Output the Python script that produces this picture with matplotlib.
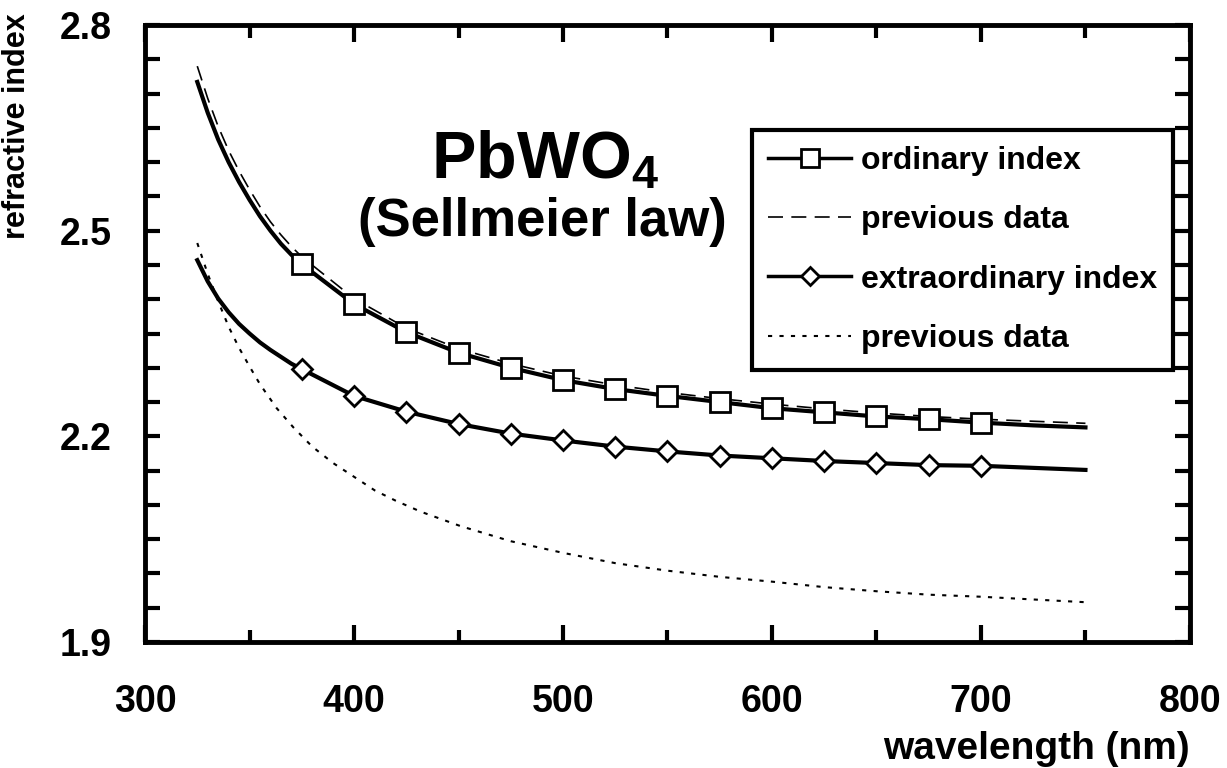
import numpy as np
import matplotlib
matplotlib.use('Agg')
import matplotlib.pyplot as plt
from matplotlib.ticker import MultipleLocator, FixedLocator

plt.rcParams['font.family'] = ['Liberation Sans', 'DejaVu Sans']
plt.rcParams['font.weight'] = 'bold'
plt.rcParams['mathtext.default'] = 'regular'

# indice ordinario (Sellmeier)
wl_o = [325, 330, 335, 340, 345, 350, 355, 360, 365, 370, 375, 400, 425, 450, 475, 500,
        525, 550, 575, 600, 625, 650, 675, 700, 725, 750]
n_o = [2.717, 2.672, 2.633, 2.600, 2.571, 2.545, 2.521, 2.500, 2.481, 2.465, 2.451, 2.393,
       2.352, 2.322, 2.300, 2.282, 2.269, 2.259, 2.250, 2.241, 2.235, 2.229, 2.225, 2.220,
       2.216, 2.213]

# datos previos (ordinario)
wl_o_prev = [325, 330, 335, 340, 345, 350, 355, 360, 365, 370, 375, 400, 425, 450, 475, 500,
             525, 550, 575, 600, 625, 650, 675, 700, 725, 750]
n_o_prev = [2.740, 2.693, 2.652, 2.617, 2.587, 2.560, 2.535, 2.513, 2.494, 2.477, 2.462, 2.401,
            2.358, 2.328, 2.306, 2.288, 2.275, 2.264, 2.255, 2.247, 2.240, 2.234, 2.229, 2.225,
            2.222, 2.219]

# indice extraordinario
wl_e = [325, 330, 335, 340, 345, 350, 355, 360, 365, 370, 375, 400, 425, 450, 475, 500,
        525, 550, 575, 600, 625, 650, 675, 700, 725, 750]
n_e = [2.457, 2.426, 2.401, 2.381, 2.364, 2.350, 2.337, 2.326, 2.316, 2.306, 2.298, 2.259,
       2.236, 2.218, 2.204, 2.194, 2.185, 2.178, 2.172, 2.168, 2.164, 2.161, 2.158, 2.157,
       2.154, 2.151]

# datos previos (extraordinario)
wl_e_prev = [325, 330, 335, 340, 345, 350, 355, 363, 371, 380, 390, 400, 410, 420, 432, 451,
             475, 500, 525, 550, 575, 600, 625, 650, 675, 700, 750]
n_e_prev = [2.482, 2.437, 2.397, 2.360, 2.329, 2.302, 2.276, 2.241, 2.213, 2.185, 2.161, 2.141,
            2.121, 2.106, 2.090, 2.069, 2.047, 2.030, 2.015, 2.004, 1.995, 1.988, 1.980, 1.974,
            1.969, 1.966, 1.958]

# marcadores cada 25 nm entre 375 y 700
mk_o = [i for i, w in enumerate(wl_o) if 375 <= w <= 700]
mk_e = [i for i, w in enumerate(wl_e) if 375 <= w <= 700]

fig = plt.figure(figsize=(12.27, 7.68), dpi=100)
ax = fig.add_axes([0.1182, 0.1641, 0.8516, 0.8033])

l_op, = ax.plot(wl_o_prev, n_o_prev, color='black', lw=1.2, ls=(0, (9, 5)), label='previous data', zorder=2)
l_ep, = ax.plot(wl_e_prev, n_e_prev, color='black', lw=1.5, ls=(0, (2, 3.5)), label='previous data', zorder=2)
l_o, = ax.plot(wl_o, n_o, color='black', lw=3, marker='s', ms=14, mfc='white', mec='black',
               mew=2, markevery=mk_o, label='ordinary index', zorder=3)
l_e, = ax.plot(wl_e, n_e, color='black', lw=3, marker='D', ms=10, mfc='white', mec='black',
               mew=2, markevery=mk_e, label='extraordinary index', zorder=3)

ax.set_xlim(300, 800)
ax.set_ylim(1.9, 2.8)
ax.xaxis.set_major_locator(MultipleLocator(100))
ax.xaxis.set_minor_locator(MultipleLocator(50))
ax.yaxis.set_major_locator(FixedLocator([1.9, 2.2, 2.5, 2.8]))
ax.yaxis.set_minor_locator(MultipleLocator(0.05))
ax.yaxis.set_major_formatter(plt.FormatStrFormatter('%.1f'))

ax.tick_params(which='both', direction='in', top=True, right=True, width=3)
ax.tick_params(axis='x', which='major', length=12, pad=30, labelsize=27)
ax.tick_params(axis='x', which='minor', length=9)
ax.tick_params(axis='y', which='both', length=11)
ax.tick_params(axis='y', which='major', pad=24, labelsize=27)
for s in ax.spines.values():
    s.set_linewidth(3.5)

ax.set_xlabel('wavelength (nm)', fontsize=28, fontweight='bold', loc='right', labelpad=8)
ax.set_ylabel('refractive index', fontsize=22, fontweight='bold', loc='top')
ax.yaxis.set_label_coords(-0.108, 1.019)

ax.text(0.383, 0.78, 'PbWO$_4$', transform=ax.transAxes, fontsize=48, fontweight='bold',
        ha='center', va='center')
ax.text(0.38, 0.68, '(Sellmeier law)', transform=ax.transAxes, fontsize=38, fontweight='bold',
        ha='center', va='center')

handles = [l_o, l_op, l_e, l_ep]
leg = ax.legend(handles=handles, labels=[h.get_label() for h in handles],
                loc='upper left', bbox_to_anchor=(0.581, 0.830), borderaxespad=0,
                handlelength=2.6, handletextpad=0.3, labelspacing=0.92,
                borderpad=0.5, fancybox=False, framealpha=1, markerscale=0.9,
                prop={'weight': 'bold', 'size': 23})
leg.get_frame().set_edgecolor('black')
leg.get_frame().set_linewidth(3)
lh = leg.legend_handles
lh[0].set_linewidth(2.5)
lh[2].set_linewidth(2.5)

fig.savefig('out.png', dpi=100)
